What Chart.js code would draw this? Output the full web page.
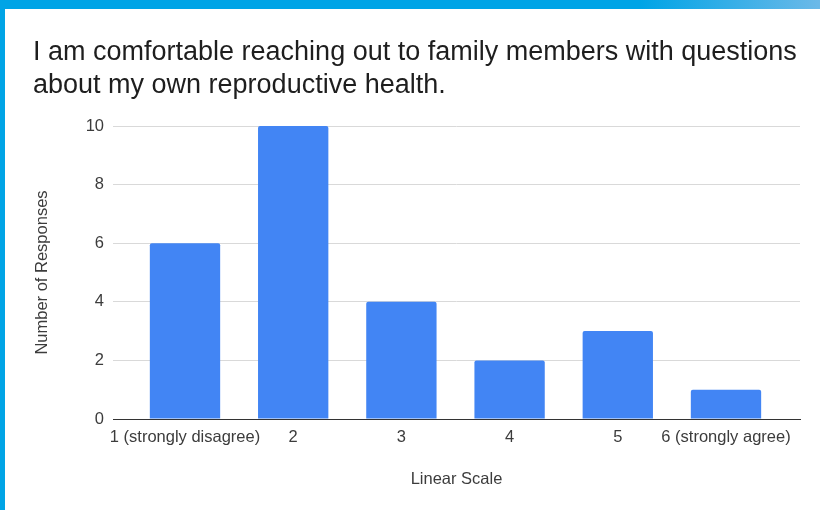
<!DOCTYPE html>
<html>
<head>
<meta charset="utf-8">
<script src="https://cdn.jsdelivr.net/npm/chart.js@4"></script>
<style>
  html, body { margin: 0; padding: 0; background: #ffffff; }
  #wrap { position: relative; width: 820px; height: 510px; overflow: hidden; }
  #topBar { position: absolute; left: 0; top: 0; width: 820px; height: 9px;
    background: linear-gradient(to right, #00a4e6 0%, #00a4e6 78%, #6cb9e8 100%); z-index: 2; }
  #leftBar { position: absolute; left: 0; top: 0; width: 5px; height: 510px; background: #00a4e6; z-index: 2; }
  canvas { position: absolute; left: 0; top: 0; }
</style>
</head>
<body>
<div id="wrap">
  <div id="topBar"></div>
  <div id="leftBar"></div>
  <canvas id="chart" width="820" height="510"></canvas>
</div>
<script>
// Survey answers on a 1–6 agreement scale
const scalePoints = [1, 2, 3, 4, 5, 6];
const scaleLabels = ['1 (strongly disagree)', '2', '3', '4', '5', '6 (strongly agree)'];
const responseCounts = [6, 10, 4, 2, 3, 1];
const yTicks = [0, 2, 4, 6, 8, 10];

const titleLines = [
  'I am comfortable reaching out to family members with questions',
  'about my own reproductive health.'
];

const FONT = '"Liberation Sans", Arial, Helvetica, sans-serif';

const points = scalePoints.map((p, i) => ({ x: p, y: responseCounts[i] }));

new Chart(document.getElementById('chart'), {
  type: 'bar',
  data: {
    datasets: [{
      label: 'Number of Responses',
      data: points,
      backgroundColor: '#4285f4',
      borderRadius: { topLeft: 2, topRight: 2, bottomLeft: 0, bottomRight: 0 },
      borderSkipped: 'start',
      categoryPercentage: 1,
      barPercentage: 0.65
    }]
  },
  options: {
    responsive: false,
    animation: false,
    devicePixelRatio: 1,
    layout: { padding: { left: 33, right: 20, top: 10, bottom: 20 } },
    plugins: {
      legend: { display: false },
      tooltip: { enabled: false },
      title: {
        display: true,
        text: titleLines,
        align: 'start',
        color: '#1e1e1e',
        font: { family: FONT, size: 27, weight: 'normal', lineHeight: 33 / 27 },
        padding: { top: 26, bottom: 24 }
      }
    },
    scales: {
      x: {
        type: 'linear',
        offset: false,
        min: 0.3346,
        max: 6.684,
        afterBuildTicks: (scale) => { scale.ticks = scalePoints.map(v => ({ value: v })); },
        afterFit: (scale) => { scale.height = 71; },
        grid: { display: false, drawTicks: false, offset: false },
        border: { display: true, color: '#333333', width: 1 },
        ticks: {
          padding: 9,
          color: '#3c3c3c',
          font: { family: FONT, size: 16.5 },
          maxRotation: 0,
          autoSkip: false,
          callback: (v) => {
            const i = scalePoints.indexOf(v);
            return i >= 0 ? scaleLabels[i] : '';
          }
        },
        title: {
          display: true,
          text: 'Linear Scale',
          color: '#3c3c3c',
          font: { family: FONT, size: 16.5 },
          padding: { top: 0, bottom: 1 }
        }
      },
      y: {
        min: 0,
        max: 10,
        afterBuildTicks: (scale) => { scale.ticks = yTicks.map(v => ({ value: v })); },
        afterFit: (scale) => { scale.width = 80; },
        grid: { color: '#d9d9d9', lineWidth: 1, drawTicks: false },
        border: { display: false },
        ticks: {
          padding: 9,
          color: '#3c3c3c',
          font: { family: FONT, size: 16.5 }
        },
        title: {
          display: true,
          text: 'Number of Responses',
          color: '#3c3c3c',
          font: { family: FONT, size: 16.5 },
          padding: { top: 0, bottom: 0 }
        }
      }
    }
  }
});
</script>
</body>
</html>
